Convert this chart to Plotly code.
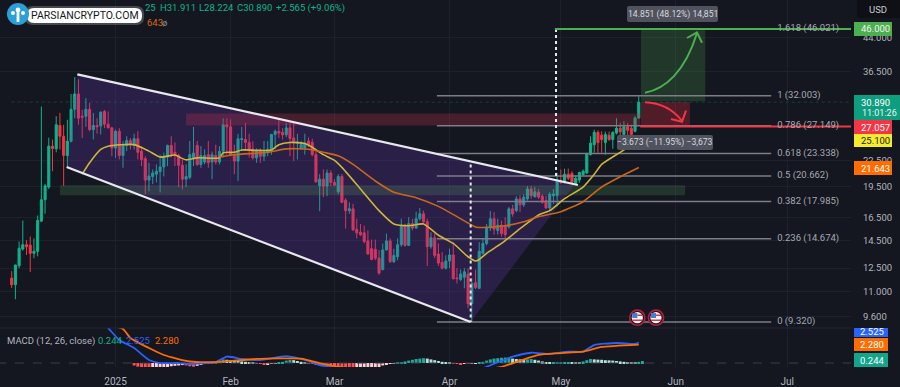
import math
import pandas as pd
import plotly.graph_objects as go
from plotly.subplots import make_subplots

FIRST_DAY = pd.Timestamp("2024-12-04")

opens = [11.84,11.42,12.67,13.87,14.2,14.17,13.55,13.7,16.15,18.15,
 19.45,24.3,23.95,27.2,25.65,23.1,24.96,29.7,32.3,28.6,
 28.6,29.7,26.6,27.2,27.15,29.35,27.4,26.85,24.05,26.35,
 23.1,24.4,25.05,24.4,25.3,23.65,22.7,20.2,20.6,20.86,
 21.15,21.7,22.9,24.4,23.5,23.1,21.9,20.3,20.5,22.7,
 24.4,22.0,22.3,23.2,22.3,23.1,22.3,23.65,27.3,27.0,
 23.2,22.4,25.2,25.2,24.8,23.9,22.8,23.65,23.0,23.45,
 23.65,25.9,26.35,26.2,25.85,26.85,25.4,24.7,24.0,24.0,
 25.0,24.8,23.2,19.6,20.3,19.55,21.0,19.95,18.95,20.6,
 18.1,17.1,17.27,15.45,15.2,15.15,14.5,13.9,13.85,13.2,
 12.4,13.8,14.5,12.95,13.3,14.2,15.7,14.15,15.93,15.55,
 16.36,16.81,16.1,14.05,14.75,13.5,12.9,12.5,13.0,13.43,
 11.85,11.75,11.9,12.1,10.3,11.55,11.2,13.55,14.3,15.55,
 16.36,15.35,15.8,15.75,15.65,17.27,17.1,18.23,17.65,18.23,
 19.24,18.45,18.9,18.5,18.05,17.35,18.55,18.55,20.1,19.9,
 20.86,20.95,19.85,20.2,20.8,21.0,23.2,24.5,26.2,25.8,
 24.8,25.8,25.2,26.1,26.8,25.9,27.0,26.8,26.35,28.325]
highs = [12.3,12.72,14.45,16.2,14.55,14.85,14.69,16.65,30.15,19.76,
 25.46,25.19,28.6,29.14,27.31,28.06,32.3,35.4,35.0,29.6,
 31.6,30.75,29.1,28.3,29.35,29.6,29.35,27.0,26.6,26.8,
 24.96,25.65,25.4,26.0,26.35,24.3,23.0,22.2,21.4,22.0,
 23.2,23.45,24.5,25.65,24.8,23.3,22.6,22.0,25.0,27.0,
 25.0,24.3,23.87,25.0,23.6,24.5,24.3,28.3,28.3,28.1,
 24.5,26.0,27.0,27.6,26.0,24.96,24.0,24.0,25.0,25.0,
 26.0,26.6,28.3,26.8,27.6,27.6,27.6,26.0,25.0,26.0,
 25.5,25.3,23.6,20.86,21.4,21.4,21.3,20.3,20.86,20.86,
 18.3,17.9,17.75,16.36,15.9,15.75,15.35,14.6,14.6,13.8,
 14.3,15.09,14.7,13.9,14.7,16.36,15.93,16.5,16.35,17.0,
 17.35,17.1,16.36,15.2,15.1,14.3,13.65,13.4,13.9,14.4,
 12.5,12.4,12.5,12.5,11.85,12.4,14.4,14.7,15.9,17.05,
 16.95,16.36,16.2,16.5,17.45,17.65,18.5,18.6,18.7,19.55,
 19.55,19.45,19.24,18.7,18.55,18.9,19.24,21.0,21.4,21.5,
 21.5,21.2,20.7,21.15,21.4,23.45,25.65,26.6,26.5,26.35,
 26.3,26.3,26.35,28.3,27.6,27.85,27.6,27.3,28.6,31.911]
lows = [11.22,10.55,12.5,13.75,13.43,12.24,13.19,13.33,16.08,16.81,
 19.24,21.2,23.5,23.87,19.58,21.8,24.8,28.3,27.31,25.4,
 27.0,26.35,25.2,26.0,25.9,26.8,26.8,23.0,22.8,22.6,
 21.6,23.65,23.87,23.87,22.6,21.8,18.7,19.0,19.76,19.95,
 18.9,20.6,21.8,22.85,21.8,19.45,19.2,19.45,20.3,21.8,
 21.8,21.6,22.0,21.6,20.3,22.0,22.0,22.85,23.2,23.0,
 20.86,20.1,23.65,23.9,22.85,22.6,22.2,22.2,22.4,23.0,
 23.2,23.9,25.4,25.2,25.5,23.0,22.4,22.6,23.87,23.2,
 24.2,23.0,19.9,17.05,18.4,18.5,19.55,19.55,18.7,17.8,
 15.5,16.8,15.3,14.7,14.9,14.3,13.45,13.05,13.05,12.05,
 12.35,13.75,12.85,12.85,13.05,14.05,14.05,14.1,15.35,15.5,
 16.2,15.93,12.65,13.9,13.2,12.65,12.4,12.4,12.5,11.75,
 11.5,11.65,11.2,10.05,9.32,11.15,11.15,13.45,14.15,15.3,
 15.0,15.0,14.85,14.7,15.5,16.55,16.95,16.95,17.45,18.05,
 18.23,18.35,18.23,17.75,17.27,17.05,17.75,17.5,19.8,19.85,
 20.2,19.85,19.75,19.9,20.75,20.9,23.1,23.45,23.45,23.45,
 23.2,25.0,23.95,25.9,24.05,24.3,24.5,23.9,26.2,28.224]
closes = [11.42,12.72,13.92,14.2,14.05,13.55,13.7,16.2,18.15,19.58,
 24.3,24.0,27.31,25.65,23.1,24.96,29.7,32.3,28.3,28.45,
 29.7,26.6,27.2,27.0,29.25,27.4,26.85,24.05,26.35,23.1,
 24.4,25.05,24.5,25.3,23.5,22.6,20.2,20.65,21.0,21.2,
 21.7,23.0,24.4,23.2,23.1,21.9,20.3,20.6,23.2,23.4,
 22.0,23.1,23.1,22.2,23.2,22.3,23.6,27.3,27.0,23.1,
 22.4,25.3,25.3,24.8,23.9,22.8,23.65,23.0,23.6,23.9,
 25.9,26.35,26.1,25.85,26.85,25.35,24.8,24.85,24.5,24.7,
 24.5,23.2,20.0,20.3,19.55,21.0,19.95,19.65,20.6,17.9,
 17.1,17.27,15.4,15.15,15.0,14.45,13.5,13.1,13.2,12.17,
 13.8,14.5,12.95,13.4,14.2,15.7,14.15,15.93,15.55,16.36,
 16.81,16.1,14.05,14.75,13.4,12.85,12.5,13.0,13.43,11.8,
 11.8,12.1,12.25,10.3,11.5,11.25,13.7,14.3,15.55,16.36,
 15.45,15.8,15.1,15.0,17.27,16.8,18.23,17.65,18.4,19.24,
 18.55,18.95,18.4,17.9,17.35,18.7,18.72,20.1,19.9,20.86,
 20.4,19.95,20.4,21.05,21.2,23.35,24.7,26.2,24.8,25.2,
 25.9,25.2,26.2,26.8,26.3,27.0,26.5,25.9,28.325,30.89]

ma_fast_day = [19,21,24,26,33,37,40,43,44,47,50,56,57,60,62,66,70,72,75,79,81,84,87,89,94,99,103,107,111,115,119,123,125,126,128,132,137,142,145,149,154,157,159,164,169]
ma_fast = [20.86,22.2,23.87,24.3,24.5,23.65,22.9,23.1,23.15,22.55,22.8,22.8,23.45,23.5,23.8,23.75,23.8,24.5,24.8,24.65,24.15,23.2,22.5,21.65,19.25,17.1,15.9,15.75,15.9,14.95,14.3,13.3,13.0,13.1,13.55,14.3,15.5,16.7,17.1,18.25,19.45,20.85,22.0,23.5,25.1]
ma_slow_day = [56,60,69,74,80,84,88,92,98,103,109,115,120,125,127,133,138,142,148,154,159,166,169]
ma_slow = [22.9,23.2,23.5,23.95,23.9,23.5,23.05,22.0,20.1,18.9,18.35,17.5,16.55,15.65,15.6,15.75,16.1,16.55,17.0,17.95,19.45,21.0,21.643]

macd_day = [22,24,26,29,33,37,40,45,48,55,58,62,67,74,80,83,86,95,105,115,125,128,135,140,145,150,154,157,163,168,169]
macd_line = [6.0,5.2,4.32,2.84,1.85,0.37,0.0,0.0,-0.12,0.12,0.8,0.5,0.37,0.86,0.25,-0.25,-0.5,-1.2,-1.4,-1.1,-0.9,-0.46,0.78,1.27,1.11,1.4,1.4,2.22,2.47,2.35,2.525]
signal_day = [24,30,32,37,41,48,55,66,78,83,87,98,110,120,129,132,137,142,147,154,159,169]
signal_line = [5.0,4.2,3.09,1.85,0.99,0.19,0.12,0.5,0.55,0.0,-0.37,-1.0,-1.2,-1.0,-0.7,-0.46,0.28,1.0,1.2,1.4,1.98,2.28]
hist_start_day = 33
macd_hist = [-.3,-.45,-.55,-.65,-.7,-.68,-.65,-.6,-.55,-.5,-.4,-.35,-.3,-.25,
 -.3,-.4,-.45,-.35,-.2,-.1,-.05,.05,.15,.3,.45,.4,.35,.3,.25,.2,.15,.1,.05,
 -.02,-.1,-.2,-.15,-.1,-.05,.05,.15,.3,.4,.35,.25,.15,.05,-.05,-.1,-.15,-.2,
 -.35,-.5,-.65,-.7,-.75,-.8,-.85,-.9,-.95,-.9,-.87,-.85,-.8,-.75,-.7,-.6,-.3,-.2,-.1,-.05,
 .05,.1,.2,.3,.4,.5,.55,.6,.55,.45,.35,.25,.15,.05,.02,
 -.05,-.1,-.15,-.1,-.12,-.1,-.05,
 .05,.15,.3,.45,.55,.6,.65,.68,.7,.55,.5,.45,.4,.45,.5,.4,.3,.2,.1,.05,
 .06,.07,.08,.1,.11,.08,.05,.04,.2,.35,.5,.45,.42,.4,.35,.33,.3,.25,.2,.15,.1,.05,.03,.15,.244]

month_ticks = ["2025-01-01","2025-02-01","2025-03-01","2025-04-01","2025-05-01","2025-06-01","2025-07-01"]
month_labels = ["2025","Feb","Mar","Apr","May","Jun","Jul"]
price_ticks = [44.0,36.5,22.5,19.5,16.5,14.5,12.5,11.0,9.6]
fib_ratio = ["0","0.236","0.382","0.5","0.618","0.786","1","1.618"]
fib_price = [9.32,14.674,17.985,20.662,23.338,27.149,32.003,46.021]

wedge_top_day, wedge_top = [17.7,152.6],[35.95,19.66]
wedge_low_day, wedge_low = [14.8,123.7],[21.7,9.32]
wedge_fill_day, wedge_fill = [17.7,151.8,123.7,14.8,17.7],[35.95,19.76,9.32,21.7,35.95]

BG="#14171f"; GRID="#1d212c"; UP="#0fb38d"; DOWN="#f23645"; TXT="#b2b5be"
FONT="Roboto"
W,H=851.0,367.0
def d(i): return (FIRST_DAY+pd.Timedelta(hours=24*i)).strftime("%Y-%m-%d %H:%M")
def ds(a): return [d(i) for i in a]
def px(x): return x/W
def py(y): return 1-y/H

fig=make_subplots(rows=2,cols=1,shared_xaxes=True,vertical_spacing=0,row_heights=[.9,.1])

def area(a,b,lo,hi,color):
    fig.add_trace(go.Scatter(x=ds([a,b,b,a,a]),y=[lo,lo,hi,hi,lo],mode="lines",line=dict(width=0),fill="toself",fillcolor=color,hoverinfo="skip"),row=1,col=1)
def ln(a,b,ya,yb,color,width=1.5,dash="solid"):
    fig.add_trace(go.Scatter(x=ds([a,b]),y=[ya,yb],mode="lines",line=dict(color=color,width=width,dash=dash),hoverinfo="skip"),row=1,col=1)

fig.add_trace(go.Scatter(x=ds(wedge_fill_day),y=wedge_fill,mode="lines",line=dict(width=0),fill="toself",fillcolor="rgba(108,55,191,0.25)",hoverinfo="skip"),row=1,col=1)
area(47,169.4,27.2,29.05,"rgba(190,50,80,0.30)")
area(13,181.5,18.6,19.65,"rgba(90,175,100,0.20)")
area(169.6,186.9,31.05,46.0,"rgba(76,175,80,0.22)")
area(169.6,182.8,27.06,30.9,"rgba(220,40,60,0.30)")

for p in fib_price[:-1]:
    ln(114.6,204.7,p,p,"#7b7e88",1.5)
ln(0,226.2,30.89,30.89,"rgba(15,179,141,0.28)",1,"dot")

fig.add_trace(go.Candlestick(x=ds(range(len(opens))),open=opens,high=highs,low=lows,close=closes,
    increasing=dict(line=dict(color=UP,width=1),fillcolor=UP),decreasing=dict(line=dict(color=DOWN,width=1),fillcolor=DOWN),whiskerwidth=0,hoverinfo="skip"),row=1,col=1)

fig.add_trace(go.Scatter(x=ds(ma_fast_day),y=ma_fast,mode="lines",line=dict(color="#cdb63a",width=1.6,shape="spline",smoothing=.6),hoverinfo="skip"),row=1,col=1)
fig.add_trace(go.Scatter(x=ds(ma_slow_day),y=ma_slow,mode="lines",line=dict(color="#c7671a",width=1.6,shape="spline",smoothing=.6),hoverinfo="skip"),row=1,col=1)

ln(*wedge_top_day,*wedge_top,"#e8e8ee",2.2)
ln(*wedge_low_day,*wedge_low,"#e8e8ee",2.2)
ln(146.7,146.7,46.0,20.4,"#e8e8ee",2,"dot")
ln(123.7,123.7,22.0,9.32,"#e8e8ee",2,"dot")
ln(146.4,226.2,46.0,46.0,"#4caf50",2)
ln(169.4,226.2,27.057,27.057,DOWN,2)

fig.add_trace(go.Scatter(x=[d(206.3)]*len(fib_price),y=fib_price,mode="text",
    text=[f"{r} ({p:.3f})" for r,p in zip(fib_ratio,fib_price)],textposition="middle right",
    textfont=dict(family=FONT,size=9.5,color="#a5a8b2"),hoverinfo="skip"),row=1,col=1)

# MACD pane
hist_days=[hist_start_day+i for i in range(len(macd_hist))]
cols=[]
for k,h in enumerate(macd_hist):
    prev=macd_hist[k-1] if k else 0
    cols.append(("#26a69a" if h>=prev else "#b2dfdb") if h>=0 else ("#ff5252" if h<prev else "#ffcdd2"))
fig.add_trace(go.Bar(x=ds(hist_days),y=macd_hist,marker=dict(color=cols,line=dict(width=0)),hoverinfo="skip"),row=2,col=1)
fig.add_trace(go.Scatter(x=ds([-4,227]),y=[0,0],mode="lines",line=dict(color="#3a3e49",width=1,dash="dash"),hoverinfo="skip"),row=2,col=1)
fig.add_trace(go.Scatter(x=ds(macd_day),y=macd_line,mode="lines",line=dict(color="#2962ff",width=1.8,shape="spline",smoothing=.5),hoverinfo="skip"),row=2,col=1)
fig.add_trace(go.Scatter(x=ds(signal_day),y=signal_line,mode="lines",line=dict(color="#ff6d00",width=1.8,shape="spline",smoothing=.5),hoverinfo="skip"),row=2,col=1)

shapes=[]
def s_path(path,line=None,fill=None,width=2):
    shapes.append(dict(type="path",xref="paper",yref="paper",path=path,line=dict(color=line or "rgba(0,0,0,0)",width=width),fillcolor=fill or "rgba(0,0,0,0)",layer="above"))
def P(x,y): return f"{px(x):.5f},{py(y):.5f}"
def rect(x0,y0,x1,y1,fill,line=None,width=0,r=0):
    if r:
        s_path(f"M {P(x0+r,y0)} L {P(x1-r,y0)} Q {P(x1,y0)} {P(x1,y0+r)} L {P(x1,y1-r)} Q {P(x1,y1)} {P(x1-r,y1)} L {P(x0+r,y1)} Q {P(x0,y1)} {P(x0,y1-r)} L {P(x0,y0+r)} Q {P(x0,y0)} {P(x0+r,y0)} Z",line,fill,width)
    else:
        shapes.append(dict(type="rect",xref="paper",yref="paper",x0=px(x0),x1=px(x1),y0=py(y0),y1=py(y1),fillcolor=fill,line=dict(width=0),layer="above"))
def circ(cx,cy,r,fill,line=None,width=0):
    shapes.append(dict(type="circle",xref="paper",yref="paper",x0=px(cx-r),x1=px(cx+r),y0=py(cy-r),y1=py(cy+r),fillcolor=fill,line=dict(color=line or "rgba(0,0,0,0)",width=width),layer="above"))

# arrows
s_path(f"M {P(645,92.7)} C {P(665,89)} {P(685,72)} {P(697,33)}","#4caf50",None,2)
s_path(f"M {P(687,38)} L {P(697,32.3)} L {P(702,42.7)}","#4caf50",None,2)
s_path(f"M {P(645,102.3)} C {P(660,103)} {P(672,108)} {P(682,121)}",DOWN,None,2)
s_path(f"M {P(671,119)} L {P(682,121.7)} L {P(686,110.7)}",DOWN,None,2)
# pane separator
shapes.append(dict(type="line",xref="paper",yref="paper",x0=0,x1=1,y0=py(328),y1=py(328),line=dict(color="#252935",width=1),layer="above"))
# value boxes
rect(627,6,718,22,"#50535e",r=2)
rect(617,135,713,150,"#50535e",r=2)
rect(854,22,892,36,"#4caf50")
rect(854,95,900,120,"#0f9d7f")
rect(854,120,892,134,DOWN)
rect(854,134,892,147,"#f5ea2b")
rect(854,161,892,175,"#ff6d00")
rect(854,328,888,337,"#2962ff")
rect(854,338,888,351,"#ff6d00")
rect(854,353,888,367,"#12a58b")
rect(857,0,900,18,"#0e1016")
# flags
for cx in (637.3,656):
    circ(cx,317.7,7.6,BG,"#b3203a",1.6)
    circ(cx,317.7,5.6,"#f4f4f6")
    rect(cx-5,313,cx,318,"#3f7fd6")
    rect(cx,314.5,cx+5,316,"#d63a4a")
    rect(cx-5,319.5,cx+5,321,"#d63a4a")
# watermark
rect(25,6,144,25,"rgba(255,255,255,0.22)",r=8)
rect(27,8,142,23,"#ffffff",r=7)
circ(18,14,11,"#2a9fd8")
circ(18,10,2.4,"#ffffff"); circ(13,13,2,"#ffffff"); circ(23,13,2,"#ffffff"); rect(16.6,12,19.4,22,"#ffffff")

def note(x,y,t,color,size=10,anchor="center",family=FONT,bold=False):
    ann.append(dict(xref="paper",yref="paper",x=px(x),y=py(y),text=f"<b>{t}</b>" if bold else t,showarrow=False,
        font=dict(family=family,size=size,color=color),xanchor=anchor,yanchor="middle"))
ann=[]
note(672.5,14,"14.851 (48.12%) 14,851","#d5d7de",8.6)
note(665,142.5,"−3.673 (−11.95%) −3,673","#d5d7de",8.6)
note(875,29,"46.000","#eef3ee",9.5)
note(875,102,"30.890","#ffffff",9.5)
note(879.5,113,"11:01:26","#e8f5f0",9)
note(875,127,"27.057","#ffffff",9.5)
note(875,140.5,"25.100","#1a1a10",9.5)
note(875,168,"21.643","#ffffff",9.5)
note(872,331.5,"2.525","#ffffff",9.5)
note(872,344.5,"2.280","#ffffff",9.5)
note(872,360.5,"0.244","#ffffff",9.5)
note(878,9,"USD","#c8cad2",9.5)
note(85,15.5,"PARSIANCRYPTO.COM","#15171c",10.5)
note(5,340.5,"MACD (12, 26, close)",TXT,9.5,"left")
note(96,340.5,"0.244",UP,9.5,"left")
note(124,340.5,"2.525","#2962ff",9.5,"left")
note(153,340.5,"2.280","#ff6d00",9.5,"left")
note(143,8,"25",UP,9.5,"left")
note(158,8,"H31.911",UP,9.5,"left")
note(197,8,"L28.224",UP,9.5,"left")
note(235,8,"C30.890",UP,9.5,"left")
note(274,8,"+2.565 (+9.06%)",UP,9.5,"left")
note(145,22,"643","#d8690f",9.5,"left")
note(160,22,"ø","#8a8d96",9.5,"left")

fig.update_layout(width=900,height=387,margin=dict(l=0,r=49,t=0,b=20),autosize=False,
    paper_bgcolor=BG,plot_bgcolor=BG,showlegend=False,shapes=shapes,annotations=ann,
    font=dict(family=FONT,color=TXT,size=10),boxgap=.2,bargap=.2,hovermode=False)
rng=[d(-3.15),d(226.2)]
fig.update_xaxes(range=rng,type="date",tickvals=month_ticks,ticktext=month_labels,gridcolor=GRID,gridwidth=1,showline=False,zeroline=False,ticks="",
    rangeslider_visible=False,tickfont=dict(family=FONT,size=10,color=TXT))
fig.update_layout(xaxis=dict(domain=[0,1],showticklabels=False),
    xaxis2=dict(domain=[0,1],showticklabels=True,rangeslider=dict(visible=False),ticks="outside",ticklen=5,tickcolor="rgba(0,0,0,0)"))
split=(367-328)/367
fig.update_layout(
    yaxis=dict(domain=[split,1],type="log",range=[math.log10(9.02),math.log10(53.9)],side="right",tickvals=price_ticks,
        ticktext=[f"{v:.3f}" for v in price_ticks],gridcolor=GRID,zeroline=False,showline=False,ticks="outside",ticklen=9,tickcolor="rgba(0,0,0,0)",
        tickfont=dict(family=FONT,size=9.5,color=TXT)),
    yaxis2=dict(domain=[0,split],range=[-.49,4.32],side="right",showticklabels=False,showgrid=False,zeroline=False,showline=False))
fig.write_html("out.html",config={"displayModeBar":False},post_script="document.documentElement.style.background='#14171f';document.body.style.margin='0';document.body.style.background='#14171f';window.dispatchEvent(new Event('resize'));")
